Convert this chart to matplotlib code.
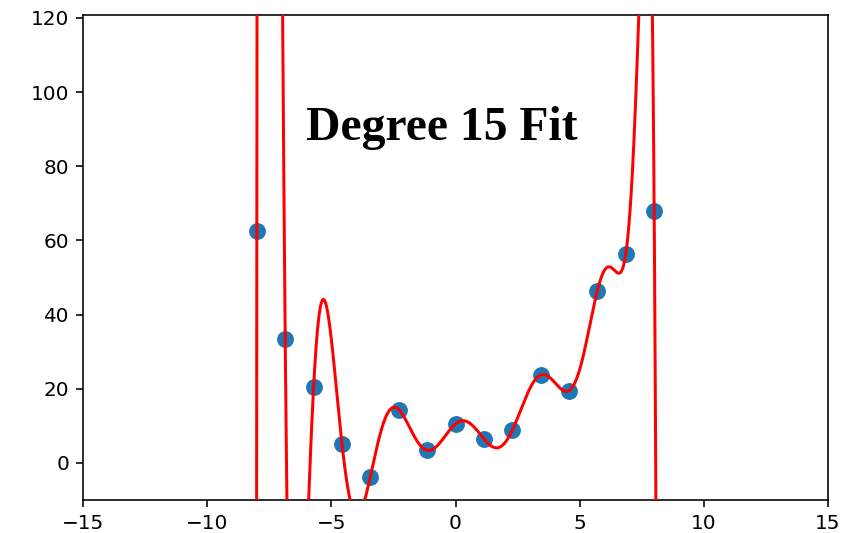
import warnings
import numpy as np
import matplotlib
matplotlib.use('Agg')
import matplotlib.pyplot as plt

warnings.simplefilter('ignore')

# data points
x = np.linspace(-8, 8, 15)
y = [62.5, 33.4, 20.4, 5.2, -3.7, 14.4, 3.4, 10.5, 6.5, 8.8, 23.7, 19.5, 46.5, 56.4, 68.0]
degree = 15

coef = np.polyfit(x, y, degree)
xs = np.linspace(-8.2, 8.2, 2000)
ys = np.polyval(coef, xs)

fig = plt.figure(figsize=(845 / 144, 533 / 144), dpi=144)
ax = fig.add_axes([83 / 845, 33 / 533, 745 / 845, 485 / 533])
ax.scatter(x, y, s=55, color='#1f77b4', zorder=2)
ax.plot(xs, ys, color='red', lw=1.5, zorder=3)
ax.set_xlim(-15, 15)
ax.set_ylim(-10, 120.8)
ax.set_yticks([0, 20, 40, 60, 80, 100, 120])
ax.text(-6, 87.0, 'Degree %d Fit' % degree, fontsize=23.8, fontweight='bold',
        family=['Liberation Serif', 'DejaVu Serif'])

fig.savefig('out.png', dpi=144)
